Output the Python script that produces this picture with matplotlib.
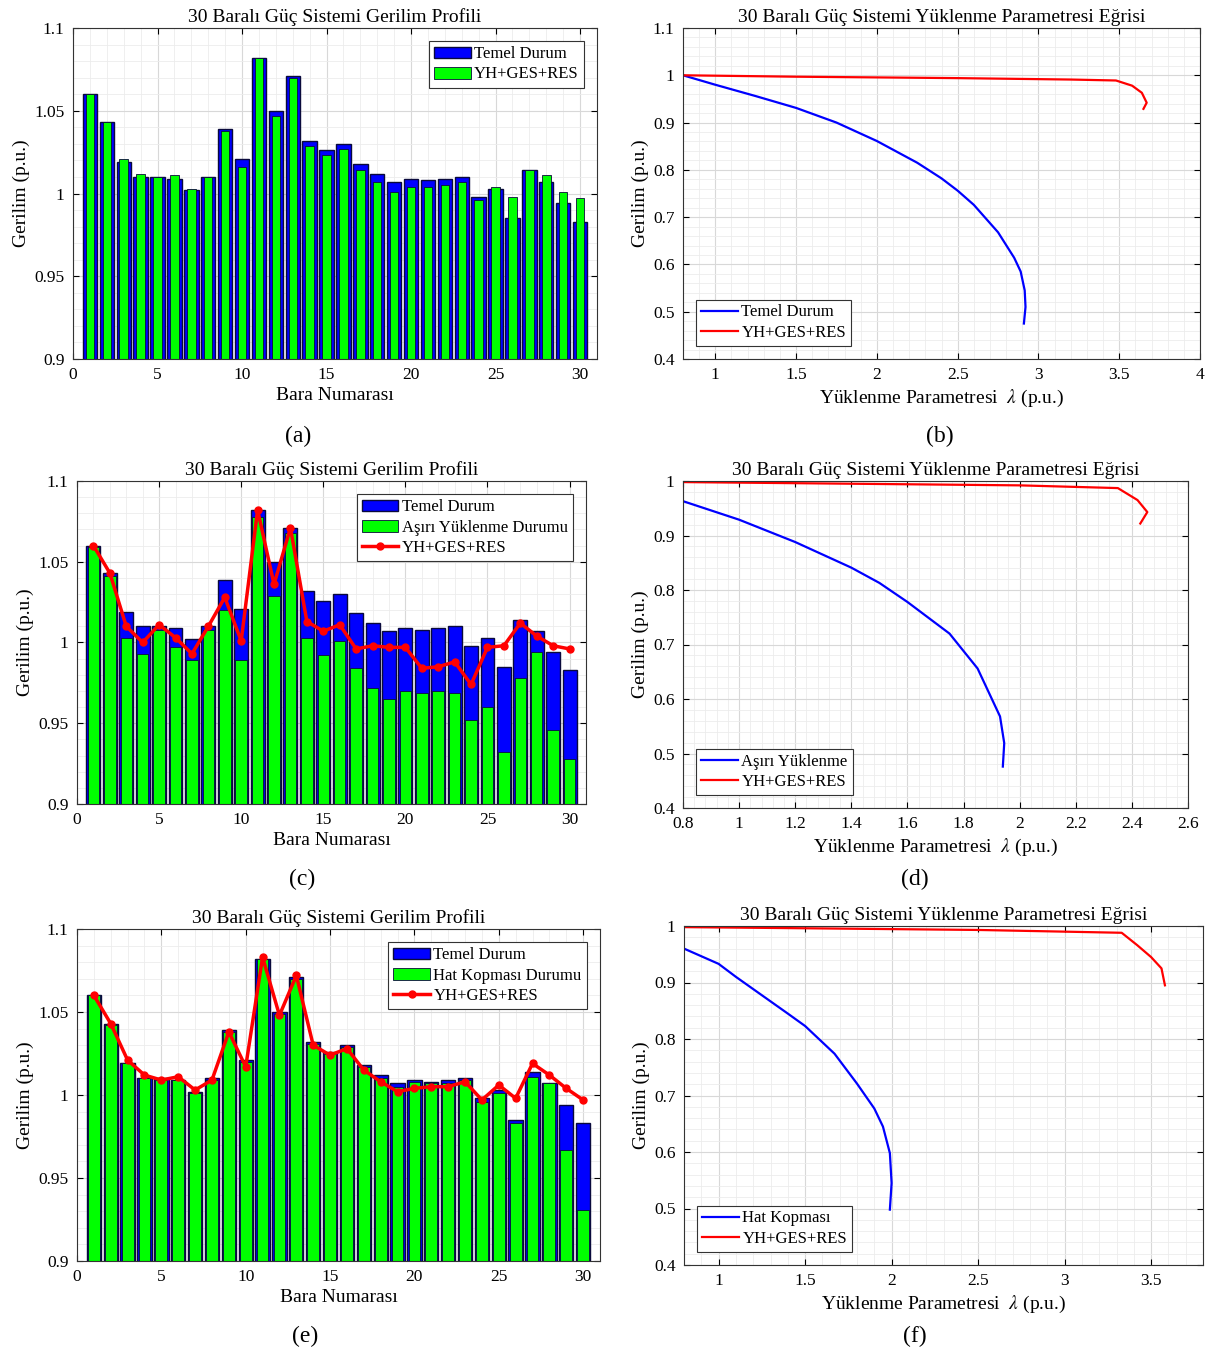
import matplotlib
matplotlib.use("Agg")
import matplotlib.pyplot as plt
from matplotlib.ticker import AutoMinorLocator
import numpy as np

plt.rcParams["font.family"] = ["Liberation Serif", "DejaVu Serif"]
plt.rcParams["mathtext.fontset"] = "stix"

bus = np.arange(1, 31)

# bus voltages (p.u.)
temel = [1.060, 1.043, 1.019, 1.010, 1.010, 1.009, 1.002, 1.010, 1.039, 1.021,
         1.082, 1.050, 1.071, 1.032, 1.026, 1.030, 1.018, 1.012, 1.007, 1.009,
         1.008, 1.009, 1.010, 0.998, 1.003, 0.985, 1.014, 1.007, 0.994, 0.983]
yh_a = [1.060, 1.043, 1.021, 1.012, 1.010, 1.011, 1.003, 1.010, 1.038, 1.016,
        1.082, 1.047, 1.070, 1.029, 1.023, 1.027, 1.014, 1.007, 1.001, 1.004,
        1.004, 1.005, 1.007, 0.996, 1.004, 0.998, 1.014, 1.011, 1.001, 0.997]
asiri = [1.059, 1.041, 1.003, 0.993, 1.008, 0.997, 0.989, 1.008, 1.020, 0.989,
         1.078, 1.029, 1.068, 1.003, 0.992, 1.001, 0.984, 0.972, 0.965, 0.970,
         0.969, 0.970, 0.969, 0.952, 0.960, 0.932, 0.978, 0.994, 0.946, 0.928]
yh_c = [1.060, 1.043, 1.010, 1.000, 1.011, 1.003, 0.993, 1.010, 1.028, 1.001,
        1.082, 1.036, 1.071, 1.013, 1.007, 1.011, 0.996, 0.998, 0.997, 0.997,
        0.984, 0.985, 0.988, 0.974, 0.997, 0.998, 1.012, 1.004, 0.998, 0.996]
hat = [1.060, 1.042, 1.019, 1.010, 1.009, 1.009, 1.001, 1.009, 1.038, 1.020,
       1.082, 1.049, 1.070, 1.031, 1.025, 1.029, 1.017, 1.010, 1.005, 1.008,
       1.007, 1.007, 1.009, 0.996, 1.001, 0.983, 1.011, 1.007, 0.967, 0.931]
yh_e = [1.060, 1.043, 1.021, 1.012, 1.009, 1.011, 1.003, 1.009, 1.038, 1.017,
        1.083, 1.048, 1.072, 1.030, 1.024, 1.028, 1.015, 1.008, 1.002, 1.004,
        1.005, 1.005, 1.008, 0.997, 1.006, 0.998, 1.019, 1.012, 1.004, 0.997]

# PV curves: loading parameter lambda vs voltage
lam_b_base = [0.8, 1.0, 1.25, 1.5, 1.75, 2.0, 2.25, 2.4, 2.5, 2.6, 2.75, 2.85, 2.89, 2.915, 2.92, 2.91]
v_b_base = [1.0, 0.980, 0.956, 0.931, 0.900, 0.861, 0.815, 0.782, 0.756, 0.726, 0.668, 0.614, 0.585, 0.545, 0.51, 0.475]
lam_b_yh = [0.8, 1.5, 2.5, 3.2, 3.48, 3.58, 3.64, 3.67, 3.65]
v_b_yh = [1.0, 0.997, 0.994, 0.991, 0.989, 0.978, 0.963, 0.942, 0.929]

lam_d_base = [0.8, 1.0, 1.2, 1.4, 1.5, 1.6, 1.75, 1.85, 1.93, 1.945, 1.94]
v_d_base = [0.963, 0.929, 0.888, 0.841, 0.813, 0.778, 0.720, 0.656, 0.568, 0.519, 0.476]
lam_d_yh = [0.8, 1.4, 2.0, 2.35, 2.42, 2.455, 2.43]
v_d_yh = [0.998, 0.995, 0.992, 0.987, 0.965, 0.943, 0.922]

lam_f_base = [0.8, 1.0, 1.1, 1.4, 1.5, 1.67, 1.8, 1.9, 1.95, 1.99, 2.0, 1.99]
v_f_base = [0.960, 0.933, 0.910, 0.845, 0.823, 0.774, 0.721, 0.677, 0.645, 0.598, 0.545, 0.498]
lam_f_yh = [0.8, 1.5, 2.5, 3.0, 3.33, 3.42, 3.5, 3.56, 3.58]
v_f_yh = [0.998, 0.996, 0.993, 0.990, 0.988, 0.966, 0.945, 0.925, 0.895]

W, H = 1217, 1355
BLUE = "#0000ff"
GREEN = "#00ff00"
EDGE = "#0a0a3c"
RED = "#ff0000"


def box(l, t, r, b):
    return [l / W, 1 - b / H, (r - l) / W, (b - t) / H]


def style(ax):
    ax.xaxis.set_minor_locator(AutoMinorLocator(5))
    ax.yaxis.set_minor_locator(AutoMinorLocator(5))
    ax.grid(True, which="major", color="#d8d8d8", lw=0.8)
    ax.grid(True, which="minor", color="#ececec", lw=0.6)
    ax.set_axisbelow(True)
    ax.tick_params(labelsize=12.5, direction="in", top=True, right=True, length=4, pad=6)
    ax.tick_params(which="minor", length=0)
    for s in ax.spines.values():
        s.set_color("#333333")
        s.set_linewidth(0.8)


def add_legend(ax, handles, loc):
    leg = ax.legend(handles=handles, loc=loc, fontsize=12, fancybox=False, edgecolor="#333333",
                    handlelength=2.2, borderpad=0.3, labelspacing=0.25, handletextpad=0.2,
                    borderaxespad=0.8, framealpha=1)
    leg.get_frame().set_linewidth(0.8)


def bar_panel(ax, green, green_label, red=None, gw=0.7):
    b1 = ax.bar(bus, temel, width=0.85, color=BLUE, edgecolor=EDGE, lw=1.0, label="Temel Durum")
    b2 = ax.bar(bus, green, width=gw, color=GREEN, edgecolor=EDGE, lw=0.6, label=green_label)
    handles = [b1, b2]
    if red is not None:
        (ln,) = ax.plot(bus, red, color=RED, lw=2.5, marker="o", ms=5, label="YH+GES+RES")
        handles.append(ln)
    ax.set_xlim(0, 31)
    ax.set_ylim(0.9, 1.1)
    ax.set_xticks(range(0, 31, 5))
    ax.set_yticks([0.9, 0.95, 1.0, 1.05, 1.1])
    ax.set_yticklabels(["0.9", "0.95", "1", "1.05", "1.1"])
    style(ax)
    ax.set_title("30 Baralı Güç Sistemi Gerilim Profili", fontsize=14, pad=4)
    ax.set_xlabel("Bara Numarası", fontsize=14, labelpad=3)
    ax.set_ylabel("Gerilim (p.u.)", fontsize=14, labelpad=3)
    add_legend(ax, handles, "upper right")


def pv_panel(ax, lb, vb, base_label, ly, vy, xlim, xticks, ylim, yticks):
    (l1,) = ax.plot(lb, vb, color=BLUE, lw=1.6, label=base_label)
    (l2,) = ax.plot(ly, vy, color=RED, lw=1.6, label="YH+GES+RES")
    ax.set_xlim(*xlim)
    ax.set_ylim(*ylim)
    ax.set_xticks(xticks)
    ax.set_xticklabels([f"{t:g}" for t in xticks])
    ax.set_yticks(yticks)
    ax.set_yticklabels([f"{t:g}" for t in yticks])
    style(ax)
    ax.set_title("30 Baralı Güç Sistemi Yüklenme Parametresi Eğrisi", fontsize=14, pad=4)
    ax.set_xlabel("Yüklenme Parametresi  $\\lambda$ (p.u.)", fontsize=14, labelpad=3)
    ax.set_ylabel("Gerilim (p.u.)", fontsize=14, labelpad=3)
    add_legend(ax, [l1, l2], "lower left")


fig = plt.figure(figsize=(W / 100, H / 100), dpi=100)

ax_a = fig.add_axes(box(73, 28, 597, 359))
bar_panel(ax_a, yh_a, "YH+GES+RES", gw=0.5)

ax_b = fig.add_axes(box(683, 28, 1200, 359))
pv_panel(ax_b, lam_b_base, v_b_base, "Temel Durum", lam_b_yh, v_b_yh,
         (0.8, 4.0), [1, 1.5, 2, 2.5, 3, 3.5, 4], (0.4, 1.1), np.arange(0.4, 1.11, 0.1).round(1))

ax_c = fig.add_axes(box(77, 481, 586, 804))
bar_panel(ax_c, asiri, "Aşırı Yüklenme Durumu", red=yh_c)

ax_d = fig.add_axes(box(683, 481, 1188, 808))
pv_panel(ax_d, lam_d_base, v_d_base, "Aşırı Yüklenme", lam_d_yh, v_d_yh,
         (0.8, 2.6), np.arange(0.8, 2.61, 0.2).round(1), (0.4, 1.0), np.arange(0.4, 1.01, 0.1).round(1))

ax_e = fig.add_axes(box(77, 929, 600, 1261))
bar_panel(ax_e, hat, "Hat Kopması Durumu", red=yh_e)

ax_f = fig.add_axes(box(684, 926, 1203, 1265))
pv_panel(ax_f, lam_f_base, v_f_base, "Hat Kopması", lam_f_yh, v_f_yh,
         (0.8, 3.8), [1, 1.5, 2, 2.5, 3, 3.5], (0.4, 1.0), np.arange(0.4, 1.01, 0.1).round(1))

for lbl, x, y in [("(a)", 298, 436), ("(b)", 940, 436), ("(c)", 302, 879),
                  ("(d)", 915, 879), ("(e)", 305, 1336), ("(f)", 915, 1336)]:
    fig.text(x / W, 1 - y / H, lbl, ha="center", va="center", fontsize=17)

fig.savefig("out.png", dpi=100)
